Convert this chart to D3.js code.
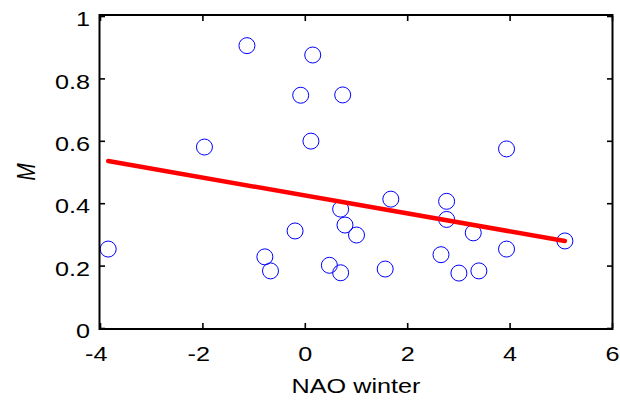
<!DOCTYPE html>
<html>
<head>
<meta charset="utf-8">
<script src="https://cdn.jsdelivr.net/npm/d3@7"></script>
<style>
  body { margin: 0; background: #fff; }
  svg text { font-family: "Liberation Sans", Arial, Helvetica, sans-serif; fill: #000; }
</style>
</head>
<body>
<svg id="chart" width="620" height="401"></svg>
<script>
// NAO winter index vs M
const naoWinter = [-3.84, -1.96, -1.13, -0.78, -0.67, -0.19, -0.08, 0.12, 0.155, 0.48,
                   0.70, 0.70, 0.74, 0.785, 1.01, 1.57, 1.68, 2.66, 2.77, 2.77,
                   3.01, 3.29, 3.40, 3.94, 3.94, 5.08];
const mValues   = [0.253, 0.580, 0.905, 0.228, 0.183, 0.311, 0.746, 0.599, 0.875, 0.201,
                   0.381, 0.177, 0.747, 0.330, 0.298, 0.189, 0.413, 0.235, 0.406, 0.348,
                   0.176, 0.305, 0.183, 0.574, 0.253, 0.279];

// least squares line, endpoints as drawn
const fitX = [-3.84, 5.08];
const fitY = [0.535, 0.279];

const xTicks = [-4, -2, 0, 2, 4, 6];
const yTicks = [0, 0.2, 0.4, 0.6, 0.8, 1];

const svg = d3.select('#chart');
const plotLeft = 100, plotRight = 612, plotTop = 16, plotBottom = 328;
const stretch = 1.2; // text in the picture is a bit wider than tall

const x = d3.scaleLinear().domain([-4, 6]).range([plotLeft, plotRight]);
const y = d3.scaleLinear().domain([0, 1]).range([plotBottom, plotTop]);

// points
svg.append('g')
  .selectAll('circle')
  .data(naoWinter.map((d, i) => [d, mValues[i]]))
  .join('circle')
  .attr('cx', d => x(d[0]))
  .attr('cy', d => y(d[1]))
  .attr('r', 8)
  .attr('fill', 'none')
  .attr('stroke', '#0000ff')
  .attr('stroke-width', 1);

// regression line
svg.append('path')
  .datum(fitX.map((d, i) => [d, fitY[i]]))
  .attr('d', d3.line().x(d => x(d[0])).y(d => y(d[1])))
  .attr('fill', 'none')
  .attr('stroke', '#ff0000')
  .attr('stroke-width', 4.5)
  .attr('stroke-linecap', 'round');

// axes, ticks pointing inward on all four sides
const fmt = d => String(d);

const xAxis = svg.append('g')
  .attr('transform', `translate(0,${plotBottom})`)
  .call(d3.axisBottom(x).tickValues(xTicks).tickFormat(fmt).tickSize(-5).tickSizeOuter(0).tickPadding(18));
xAxis.selectAll('text')
  .attr('font-size', 21)
  .attr('x', d => d < 0 ? -3.5 : 0)
  .attr('transform', `scale(${stretch},1)`);

const yAxis = svg.append('g')
  .attr('transform', `translate(${plotLeft},0)`)
  .call(d3.axisLeft(y).tickValues(yTicks).tickFormat(fmt).tickSize(-5).tickSizeOuter(0).tickPadding(8.3));
yAxis.selectAll('text')
  .attr('font-size', 21)
  .attr('dy', '0.46em')
  .attr('transform', `scale(${stretch},1)`);

svg.append('g')
  .attr('transform', `translate(0,${plotTop})`)
  .call(d3.axisTop(x).tickValues(xTicks).tickFormat('').tickSize(-5).tickSizeOuter(0));
svg.append('g')
  .attr('transform', `translate(${plotRight},0)`)
  .call(d3.axisRight(y).tickValues(yTicks).tickFormat('').tickSize(-5).tickSizeOuter(0));

svg.selectAll('.tick line').attr('stroke', '#000').attr('stroke-width', 1.6);
svg.selectAll('.domain').remove();

// box
svg.append('rect')
  .attr('x', plotLeft - 0.5).attr('y', plotTop - 1)
  .attr('width', plotRight - plotLeft + 1).attr('height', plotBottom - plotTop + 2)
  .attr('fill', 'none')
  .attr('stroke', '#000')
  .attr('stroke-width', 2);

// labels
svg.append('text')
  .attr('transform', `translate(${(plotLeft + plotRight) / 2},393) scale(${stretch},1)`)
  .attr('text-anchor', 'middle')
  .attr('font-size', 21)
  .text('NAO winter');

svg.append('text')
  .attr('transform', `translate(35,${(plotTop + plotBottom) / 2}) scale(${stretch},1) rotate(-90)`)
  .attr('text-anchor', 'middle')
  .attr('font-size', 21)
  .attr('font-style', 'italic')
  .text('M');
</script>
</body>
</html>
